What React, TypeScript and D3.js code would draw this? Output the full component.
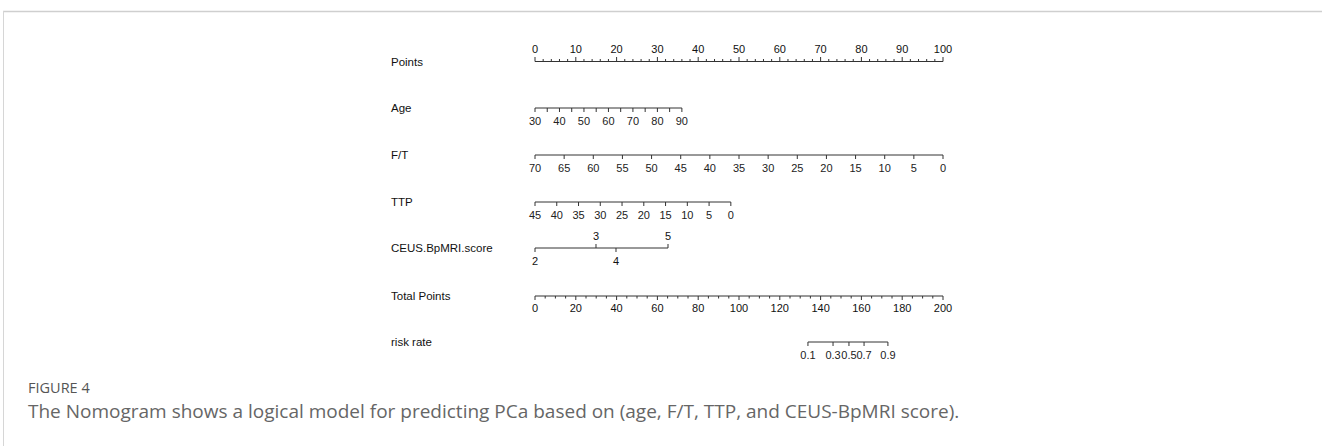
import React from "react";
import { scaleLinear } from "d3";

// nomogram variables
const pointTicks = [0, 10, 20, 30, 40, 50, 60, 70, 80, 90, 100];
const ageTicks = [30, 40, 50, 60, 70, 80, 90];
const ageMinor = [30, 35, 40, 45, 50, 55, 60, 65, 70, 75, 80, 85, 90];
const ftTicks = [70, 65, 60, 55, 50, 45, 40, 35, 30, 25, 20, 15, 10, 5, 0];
const ttpTicks = [45, 40, 35, 30, 25, 20, 15, 10, 5, 0];
const ceusLevels = [2, 3, 4, 5];
const ceusPoints = [0, 14.95, 19.85, 32.6];
const totalTicks = [0, 20, 40, 60, 80, 100, 120, 140, 160, 180, 200];
const riskLabels = ["0.1", "0.3", "0.5", "0.7", "0.9"];
const riskTotals = [133.8, 146.1, 153.9, 161.3, 173];

const rowNames = ["Points", "Age", "F/T", "TTP", "CEUS.BpMRI.score", "Total Points", "risk rate"];
const rowY = [62, 108, 155, 202, 248, 296, 342];

export default function App() {
  const x = scaleLinear().domain([0, 100]).range([535, 943]);
  const xTotal = scaleLinear().domain([0, 200]).range([535, 943]);
  const xAge = scaleLinear().domain([30, 90]).range([x(0), x(36)]);
  const xFt = scaleLinear().domain([70, 0]).range([x(0), x(100)]);
  const xTtp = scaleLinear().domain([45, 0]).range([x(0), x(48)]);

  const font = "'Liberation Sans', Arial, sans-serif";
  const stroke = "#333";
  const tickFs = 11;

  // generic "down" axis: line, ticks below, labels below
  const downAxis = (y: number, xs: number[], labels: { x: number; t: string }[], key: string) => (
    <g key={key}>
      <line x1={Math.min(...xs)} x2={Math.max(...xs)} y1={y} y2={y} stroke={stroke} strokeWidth={1} />
      {xs.map((v, i) => (
        <line key={i} x1={v} x2={v} y1={y} y2={y + 4} stroke={stroke} strokeWidth={1} />
      ))}
      {labels.map((l, i) => (
        <text key={i} x={l.x} y={y + 17} textAnchor="middle" fontSize={tickFs} fill="#222">{l.t}</text>
      ))}
    </g>
  );

  const pointMinor = Array.from({ length: 51 }, (_, i) => i * 2);
  const totalMinor = Array.from({ length: 41 }, (_, i) => i * 5);

  return (
    <div style={{ position: "absolute", left: 0, top: 0 }}>
      <svg width={1322} height={446} style={{ display: "block", fontFamily: font }}>
        <rect width={1322} height={446} fill="#fff" />
        <line x1={3} x2={1322} y1={11.5} y2={11.5} stroke="#cfcfcf" strokeWidth={1.5} />
        <line x1={3.5} x2={3.5} y1={11} y2={446} stroke="#d6d6d6" strokeWidth={1} />

        {rowNames.map((n, i) => (
          <text key={n} x={391} y={rowY[i] + 4} fontSize={11.5} fill="#111">{n}</text>
        ))}

        {/* Points: ticks up, labels above */}
        <g>
          <line x1={x(0)} x2={x(100)} y1={61.5} y2={61.5} stroke={stroke} />
          {pointMinor.map((v) => (
            <line key={v} x1={x(v)} x2={x(v)} y1={61.5} y2={v % 10 === 0 ? 57 : 59} stroke={stroke} />
          ))}
          {pointTicks.map((v) => (
            <text key={v} x={x(v)} y={53} textAnchor="middle" fontSize={tickFs} fill="#111">{v}</text>
          ))}
        </g>

        {downAxis(108, ageMinor.map(xAge), ageTicks.map((v) => ({ x: xAge(v), t: String(v) })), "age")}
        {downAxis(155, ftTicks.map(xFt), ftTicks.map((v) => ({ x: xFt(v), t: String(v) })), "ft")}
        {downAxis(202, ttpTicks.map(xTtp), ttpTicks.map((v) => ({ x: xTtp(v), t: String(v) })), "ttp")}

        {/* CEUS: alternating labels above / below */}
        <g>
          <line x1={x(0)} x2={x(ceusPoints[3])} y1={248} y2={248} stroke={stroke} />
          {ceusLevels.map((lv, i) => {
            const up = i % 2 === 1;
            const px = x(ceusPoints[i]);
            return (
              <g key={lv}>
                <line x1={px} x2={px} y1={248} y2={up ? 244 : 252} stroke={stroke} />
                <text x={px} y={up ? 240 : 265} textAnchor="middle" fontSize={tickFs} fill="#111">{lv}</text>
              </g>
            );
          })}
        </g>

        {/* Total points */}
        <g>
          <line x1={xTotal(0)} x2={xTotal(200)} y1={296} y2={296} stroke={stroke} />
          {totalMinor.map((v) => (
            <line key={v} x1={xTotal(v)} x2={xTotal(v)} y1={296} y2={v % 20 === 0 ? 300 : 298.5} stroke={stroke} />
          ))}
          {totalTicks.map((v) => (
            <text key={v} x={xTotal(v)} y={312} textAnchor="middle" fontSize={tickFs} fill="#111">{v}</text>
          ))}
        </g>

        {downAxis(342, riskTotals.map(xTotal), riskTotals.map((v, i) => ({ x: xTotal(v), t: riskLabels[i] })), "risk")}

        <text x={28} y={393} fontSize={14.5} fill="#555" fontFamily="'Open Sans', sans-serif">FIGURE 4</text>
        <text x={28} y={418} fontSize={19} fill="#666" fontFamily="'Open Sans', sans-serif">
          The Nomogram shows a logical model for predicting PCa based on (age, F/T, TTP, and CEUS-BpMRI score).
        </text>
      </svg>
    </div>
  );
}
